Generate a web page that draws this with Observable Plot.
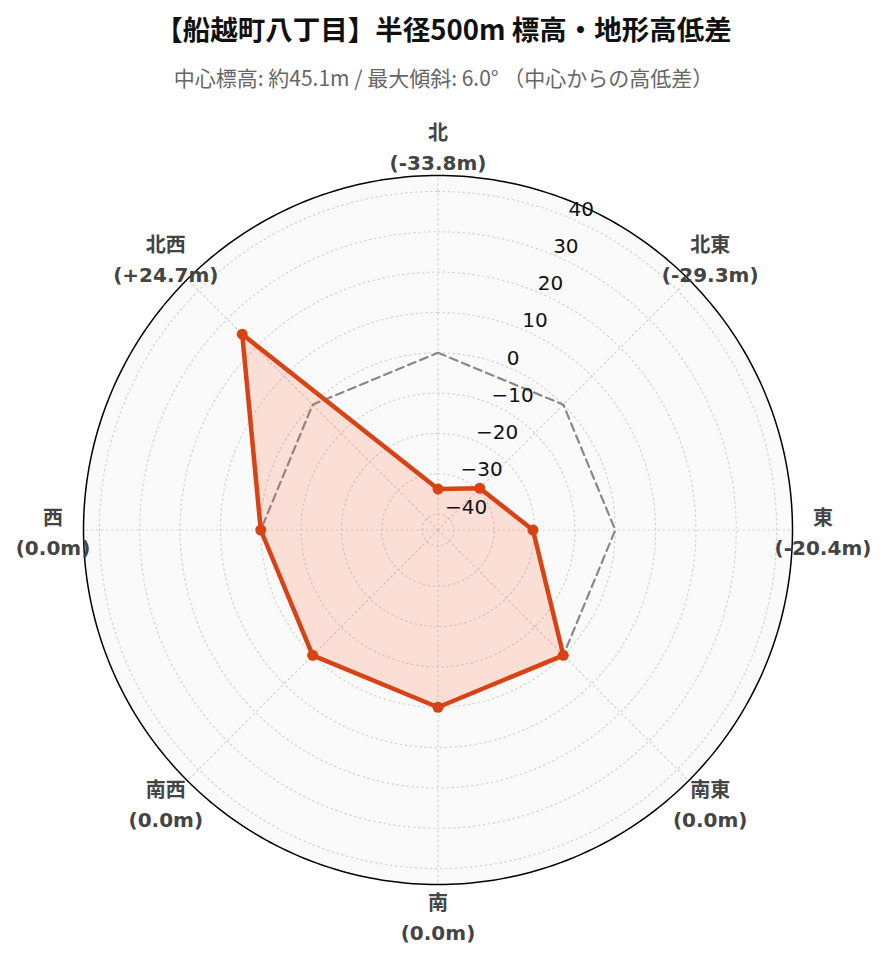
<!DOCTYPE html>
<html>
<head>
<meta charset="utf-8">
<script src="https://cdn.jsdelivr.net/npm/d3@7"></script>
<script src="https://cdn.jsdelivr.net/npm/@observablehq/plot@0.6"></script>
<style>
  html, body { margin: 0; padding: 0; background: #ffffff; }
  #wrap { position: relative; width: 887px; height: 962px; }
  #header { position: relative; width: 887px; height: 110px; }
  #title { position: absolute; left: 0; width: 887px; top: 8px; line-height: 40px; text-align: center;
           font-family: "Noto Sans CJK JP", "Noto Sans", sans-serif; font-weight: bold; font-size: 27.5px; color: #111; }
  #subtitle { position: absolute; left: 0; width: 887px; top: 62px; line-height: 30px; text-align: center;
              font-family: "Noto Sans CJK JP", "Noto Sans", sans-serif; font-size: 21px; color: #666; }
  #chart svg { display: block; overflow: visible; }
</style>
</head>
<body>
<div id="wrap">
  <div id="header">
    <div id="title"></div>
    <div id="subtitle"></div>
  </div>
  <div id="chart"></div>
</div>
<script>
// ---- data ----
const titleText = "【船越町八丁目】半径500m 標高・地形高低差";
const subtitleText = "中心標高: 約45.1m / 最大傾斜: 6.0° （中心からの高低差）";
const directions = ["北", "北東", "東", "南東", "南", "南西", "西", "北西"];
const diffs = [-33.8, -29.3, -20.4, 0.0, 0.0, 0.0, 0.0, 24.7];
const radialTicks = [-40, -30, -20, -10, 0, 10, 20, 30, 40];

document.getElementById("title").textContent = titleText;
document.getElementById("subtitle").textContent = subtitleText;

// ---- polar helpers ----
const rMax = 1.3 * d3.max(diffs, d => Math.abs(d));   // radial range [-rMax, rMax]
const D = 2 * rMax;                                   // outer radius in plot units
const rr = v => v + rMax;                             // value -> distance from center
const ang = i => i * Math.PI / 4;                     // compass angle, clockwise from north
const px = (r, a) => r * Math.sin(a);
const py = (r, a) => r * Math.cos(a);

const pts = directions.map((dir, i) => ({dir, i, v: diffs[i]}));
const circleAngles = d3.range(0, 361, 1).map(d => d * Math.PI / 180);
const ring = r => circleAngles.map(a => ({x: px(r, a), y: py(r, a)}));
const gridRings = radialTicks.map(t => ({t, pts: ring(rr(t))}));
const tickAngle = Math.PI / 8;
const labelR = D * 1.086;

const gridStyle = {stroke: "#d2d2d2", strokeWidth: 1.2, strokeDasharray: "1.5,3.5", strokeLinecap: "round"};

const marks = [
  // background disc
  Plot.area(ring(D), {x1: "x", y1: "y", x2: 0, y2: 0, fill: "#fafafa", curve: "linear"}),
  // dotted ring grid
  ...gridRings.map(g => Plot.line(g.pts, {x: "x", y: "y", ...gridStyle})),
  // dotted spokes
  Plot.link(pts, {x1: 0, y1: 0, x2: d => px(D, ang(d.i)), y2: d => py(D, ang(d.i)), ...gridStyle}),
  // zero reference
  Plot.line(pts, {x: d => px(rr(0), ang(d.i)), y: d => py(rr(0), ang(d.i)), curve: "linear-closed",
                  stroke: "#888888", strokeWidth: 2.2, strokeDasharray: "8,5"}),
  // data fill
  Plot.area(pts, {x1: d => px(rr(d.v), ang(d.i)), y1: d => py(rr(d.v), ang(d.i)), x2: 0, y2: 0,
                  curve: "linear-closed", fill: "#ff5722", fillOpacity: 0.17}),
  // outer circle
  Plot.line(ring(D), {x: "x", y: "y", stroke: "#000", strokeWidth: 1.5}),
  // data line
  Plot.line(pts, {x: d => px(rr(d.v), ang(d.i)), y: d => py(rr(d.v), ang(d.i)), curve: "linear-closed",
                  stroke: "#d84315", strokeWidth: 4.5, strokeLinejoin: "round"}),
  Plot.dot(pts, {x: d => px(rr(d.v), ang(d.i)), y: d => py(rr(d.v), ang(d.i)), r: 5.5, fill: "#d84315", stroke: "none"}),
  // radial tick labels
  Plot.text(radialTicks, {x: t => px(rr(t), tickAngle), y: t => py(rr(t), tickAngle), text: d3.format("d"),
                          textAnchor: "start", dx: 1, dy: -8, fontSize: 20, fill: "#111",
                          fontFamily: "DejaVu Sans, sans-serif"}),
  // angular labels
  Plot.text(pts, {x: d => px(labelR, ang(d.i)), y: d => py(labelR, ang(d.i)),
                  text: d => `${d.dir}\n(${d.v > 0 ? "+" : ""}${d.v.toFixed(1)}m)`,
                  lineHeight: 1.5, fontSize: 20, fontWeight: "bold", fill: "#444",
                  fontFamily: "DejaVu Sans, Noto Sans CJK JP, sans-serif"})
];

const chart = Plot.plot({
  width: 887,
  height: 852,
  marginLeft: 83,
  marginRight: 95,
  marginTop: 65,
  marginBottom: 78,
  x: {domain: [-D, D], axis: null},
  y: {domain: [-D, D], axis: null},
  style: {background: "transparent", overflow: "visible"},
  marks
});
document.getElementById("chart").appendChild(chart);
</script>
</body>
</html>
